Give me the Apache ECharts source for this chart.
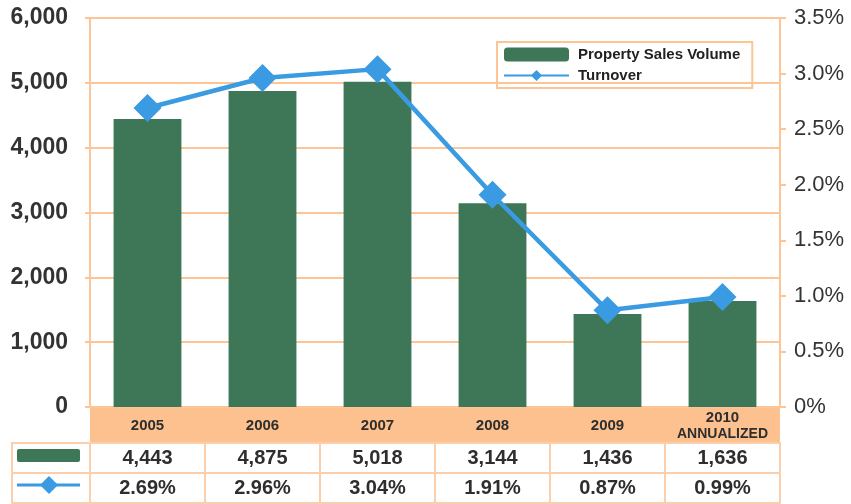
<!DOCTYPE html>
<html><head><meta charset="utf-8">
<script src="https://cdn.jsdelivr.net/npm/echarts@6/dist/echarts.min.js"></script>
<style>html,body{margin:0;padding:0;background:#fff}#c{width:851px;height:504px}</style>
</head><body><div id="c"></div>
<script>
const categories = ['2005','2006','2007','2008','2009','2010\nANNUALIZED'];
const salesVolume = [4443, 4875, 5018, 3144, 1436, 1636];
const turnover = [2.69, 2.96, 3.04, 1.91, 0.87, 0.99];
const leftTicks = {min:0, max:6000, interval:1000};
const rightTicks = {min:0, max:3.5, interval:0.5};

const GREEN = '#3E7757', BLUE = '#3A9BE2', ORANGE = '#FCC18E', GRIDC = '#FDC596', CELL = '#F9CFAE';
const FONT = '"Liberation Sans", Arial, sans-serif';
const chart = echarts.init(document.getElementById('c'));

const rowAxis = (gi, data, fmt) => ({
  type:'category', gridIndex:gi, data:data, position:'bottom',
  axisLine:{show:false}, axisTick:{show:false},
  splitLine:{show:true, lineStyle:{color:CELL, width:2}},
  axisLabel:{interval:0, margin:-15, verticalAlign:'middle', fontFamily:FONT, fontWeight:'bold', fontSize:20, color:'#2e2e2e', formatter:fmt}
});

chart.setOption({
  animation:false,
  legend:{
    orient:'vertical', left:497, top:42, padding:[5,12,5,6], itemGap:6,
    itemWidth:65, itemHeight:14, borderColor:GRIDC, borderWidth:2,
    textStyle:{fontFamily:FONT, fontSize:15, fontWeight:'bold', color:'#222', padding:[0,0,0,4]},
    data:['Property Sales Volume','Turnover']
  },
  grid:[
    {left:90, right:71, top:18, bottom:97},
    {left:90, right:71, top:407, height:36, show:true, backgroundColor:ORANGE, borderWidth:0},
    {left:90, right:71, top:443, height:30, show:true, borderColor:CELL, borderWidth:2},
    {left:90, right:71, top:473, height:30, show:true, borderColor:CELL, borderWidth:2}
  ],
  xAxis:[
    {type:'category', gridIndex:0, data:categories, axisLine:{show:false}, axisTick:{show:false}, axisLabel:{show:false}},
    {type:'category', gridIndex:1, data:categories, position:'bottom', axisLine:{show:false}, axisTick:{show:false},
     axisLabel:{interval:0, margin:-17, verticalAlign:'middle', fontFamily:FONT, fontWeight:'bold', fontSize:15, lineHeight:16, color:'#2e2e2e',
       formatter:v => v.replace('\n','\n{s|') + (v.indexOf('\n')>=0 ? '}' : ''),
       rich:{s:{fontFamily:FONT, fontWeight:'bold', fontSize:14, lineHeight:16, color:'#2e2e2e'}}}},
    rowAxis(2, salesVolume.map(String), v => Number(v).toLocaleString('en-US')),
    rowAxis(3, turnover.map(String), v => Number(v).toFixed(2) + '%')
  ],
  yAxis:[
    {type:'value', gridIndex:0, min:leftTicks.min, max:leftTicks.max, interval:leftTicks.interval,
     axisLine:{show:true, lineStyle:{color:GRIDC, width:2}}, axisTick:{show:true, length:5, lineStyle:{color:GRIDC, width:2}},
     splitLine:{show:true, lineStyle:{color:GRIDC, width:2}},
     axisLabel:{margin:22, fontFamily:FONT, fontWeight:'bold', fontSize:23, color:'#333', formatter:v => v.toLocaleString('en-US')}},
    {type:'value', gridIndex:0, position:'right', min:rightTicks.min, max:rightTicks.max, interval:rightTicks.interval,
     axisLine:{show:true, lineStyle:{color:GRIDC, width:2}}, axisTick:{show:true, length:6, inside:false, lineStyle:{color:GRIDC, width:2}},
     splitLine:{show:false},
     axisLabel:{margin:14, fontFamily:FONT, fontSize:22, color:'#333', formatter:v => v === 0 ? '0%' : v.toFixed(1) + '%'}},
    {type:'value', gridIndex:1, show:false},
    {type:'value', gridIndex:2, show:false},
    {type:'value', gridIndex:3, show:false}
  ],
  graphic:[
    {type:'rect', shape:{x:12, y:443, width:78, height:30}, style:{fill:'#fff', stroke:CELL, lineWidth:2}},
    {type:'rect', shape:{x:12, y:473, width:78, height:30}, style:{fill:'#fff', stroke:CELL, lineWidth:2}},
    {type:'rect', shape:{x:17, y:449, width:63, height:13, r:2}, style:{fill:GREEN}},
    {type:'line', shape:{x1:17, y1:485, x2:80, y2:485}, style:{stroke:BLUE, lineWidth:3}},
    {type:'polygon', shape:{points:[[49,476],[58,485],[49,494],[40,485]]}, style:{fill:BLUE}}
  ],
  series:[
    {name:'Property Sales Volume', type:'bar', xAxisIndex:0, yAxisIndex:0, data:salesVolume, barWidth:'59%', itemStyle:{color:GREEN}},
    {name:'Turnover', type:'line', xAxisIndex:0, yAxisIndex:1, data:turnover, symbol:'diamond', symbolSize:28,
     lineStyle:{color:BLUE, width:4.5}, itemStyle:{color:BLUE}}
  ]
});
</script></body></html>
